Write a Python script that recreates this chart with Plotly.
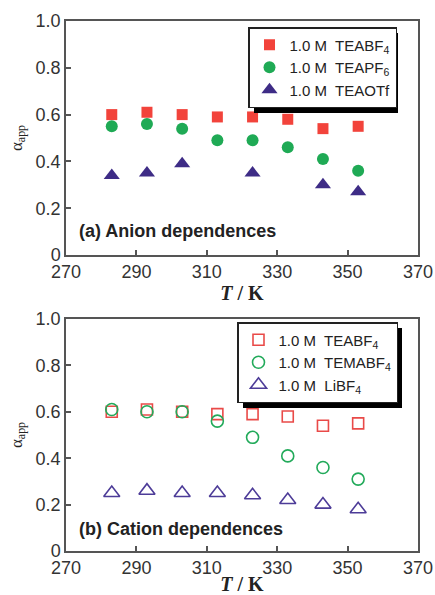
import plotly.graph_objects as go

# ---------------- data ----------------
T = [283, 293, 303, 313, 323, 333, 343, 353]
a_teabf4 = [0.60, 0.61, 0.60, 0.59, 0.59, 0.58, 0.54, 0.55]
a_teapf6 = [0.55, 0.56, 0.54, 0.49, 0.49, 0.46, 0.41, 0.36]
a_teaotf = [0.34, 0.35, 0.39, None, 0.35, None, 0.30, 0.27]
b_teabf4 = [0.60, 0.61, 0.60, 0.59, 0.59, 0.58, 0.54, 0.55]
b_temabf4 = [0.61, 0.60, 0.60, 0.56, 0.49, 0.41, 0.36, 0.31]
b_libf4 = [0.25, 0.26, 0.25, 0.25, 0.24, 0.22, 0.20, 0.18]
x_ticks = [270, 290, 310, 330, 350, 370]
y_ticks = [0, 0.2, 0.4, 0.6, 0.8, 1.0]
y_labels = ["0", "0.2", "0.4", "0.6", "0.8", "1.0"]
names_a = ["1.0 M\u00a0 TEABF<sub>4</sub>", "1.0 M\u00a0 TEAPF<sub>6</sub>", "1.0 M\u00a0 TEAOTf"]
names_b = ["1.0 M\u00a0 TEABF<sub>4</sub>", "1.0 M\u00a0 TEMABF<sub>4</sub>", "1.0 M\u00a0 LiBF<sub>4</sub>"]
panel_a = "(a) Anion dependences"
panel_b = "(b) Cation dependences"

W, H = 435, 595
RED, GREEN, PURPLE = "#f2433b", "#1faa55", "#3e2c86"
RED_O, GREEN_O, PURPLE_O = "#e94a48", "#22aa5a", "#4d3c98"

def px(x):
    return x / W

def py(y):
    return 1 - y / H

fig = go.Figure()

# panel (a)
fig.add_trace(go.Scatter(x=T, y=a_teabf4, mode="markers", name=names_a[0], legend="legend",
                         marker=dict(symbol="square", size=11, color=RED), xaxis="x", yaxis="y"))
fig.add_trace(go.Scatter(x=T, y=a_teapf6, mode="markers", name=names_a[1], legend="legend",
                         marker=dict(symbol="circle", size=12, color=GREEN), xaxis="x", yaxis="y"))
fig.add_trace(go.Scatter(x=T, y=a_teaotf, mode="markers", name=names_a[2], legend="legend",
                         marker=dict(symbol="triangle-up", size=14, color=PURPLE), xaxis="x", yaxis="y"))
# panel (b)
fig.add_trace(go.Scatter(x=T, y=b_teabf4, mode="markers", name=names_b[0], legend="legend2",
                         marker=dict(symbol="square-open", size=11, color=RED_O, line=dict(width=1.6)),
                         xaxis="x2", yaxis="y2"))
fig.add_trace(go.Scatter(x=T, y=b_temabf4, mode="markers", name=names_b[1], legend="legend2",
                         marker=dict(symbol="circle-open", size=12, color=GREEN_O, line=dict(width=1.6)),
                         xaxis="x2", yaxis="y2"))
fig.add_trace(go.Scatter(x=T, y=b_libf4, mode="markers", name=names_b[2], legend="legend2",
                         marker=dict(symbol="triangle-up-open", size=14, color=PURPLE_O, line=dict(width=1.6)),
                         xaxis="x2", yaxis="y2"))

AX = "#555555"
tickfont = dict(family="Liberation Sans, Arial, sans-serif", size=18, color="#333333")
xtitle = dict(text="<b><i>T</i> / K</b>", font=dict(family="Liberation Serif, Times New Roman, serif",
                                                     size=20, color="#222222"), standoff=2)
ytitle = dict(text="α<sub>app</sub>", font=dict(family="Liberation Serif, Times New Roman, serif",
                                                size=17, color="#222222"), standoff=9)

def xaxis(domain, anchor):
    return dict(domain=domain, anchor=anchor, range=[270, 370], tickvals=x_ticks,
                ticks="inside", ticklen=5, tickwidth=1.5, tickcolor=AX,
                showline=True, linecolor=AX, linewidth=1.5, mirror=True,
                showgrid=False, zeroline=False, tickfont=tickfont, title=xtitle, automargin=False)

def yaxis(domain, anchor):
    return dict(domain=domain, anchor=anchor, range=[0, 1.0], tickvals=y_ticks, ticktext=y_labels,
                ticks="inside", ticklen=5, tickwidth=1.5, tickcolor=AX,
                showline=True, linecolor=AX, linewidth=1.5, mirror=True,
                showgrid=False, zeroline=False, tickfont=tickfont, title=ytitle, automargin=False)

legfont = dict(family="Liberation Sans, Arial, sans-serif", size=15, color="#222222")
xdom = [px(66), px(418)]
fig.update_layout(
    width=W, height=H, margin=dict(l=0, r=0, t=0, b=0),
    paper_bgcolor="white", plot_bgcolor="white",
    xaxis=xaxis(xdom, "y"), yaxis=yaxis([py(255), py(21)], "x"),
    xaxis2=xaxis(xdom, "y2"), yaxis2=yaxis([py(551), py(319)], "x2"),
    legend=dict(x=px(248), y=py(27), xanchor="left", yanchor="top", bgcolor="white",
                bordercolor="#222222", borderwidth=1.5, itemwidth=30, font=legfont,
                tracegroupgap=0),
    legend2=dict(x=px(237), y=py(322), xanchor="left", yanchor="top", bgcolor="white",
                 bordercolor="#222222", borderwidth=1.5, itemwidth=30, font=legfont,
                 tracegroupgap=0),
    showlegend=True,
)

# drop shadows of the legend boxes (drawn behind the legends, offset down-right)
fig.add_shape(type="rect", xref="paper", yref="paper", x0=px(254), x1=px(398), y0=py(113), y1=py(33),
              fillcolor="black", line=dict(width=0), layer="above")
fig.add_shape(type="rect", xref="paper", yref="paper", x0=px(243), x1=px(402), y0=py(408), y1=py(328),
              fillcolor="black", line=dict(width=0), layer="above")

annfont = dict(family="Liberation Sans, Arial, sans-serif", size=18, color="#222222", weight="bold")
fig.add_annotation(text=panel_a, xref="paper", yref="paper", x=px(77), y=py(231),
                   xanchor="left", yanchor="middle", showarrow=False, font=annfont)
fig.add_annotation(text=panel_b, xref="paper", yref="paper", x=px(77), y=py(529),
                   xanchor="left", yanchor="middle", showarrow=False, font=annfont)

fig.write_html("out.html")
